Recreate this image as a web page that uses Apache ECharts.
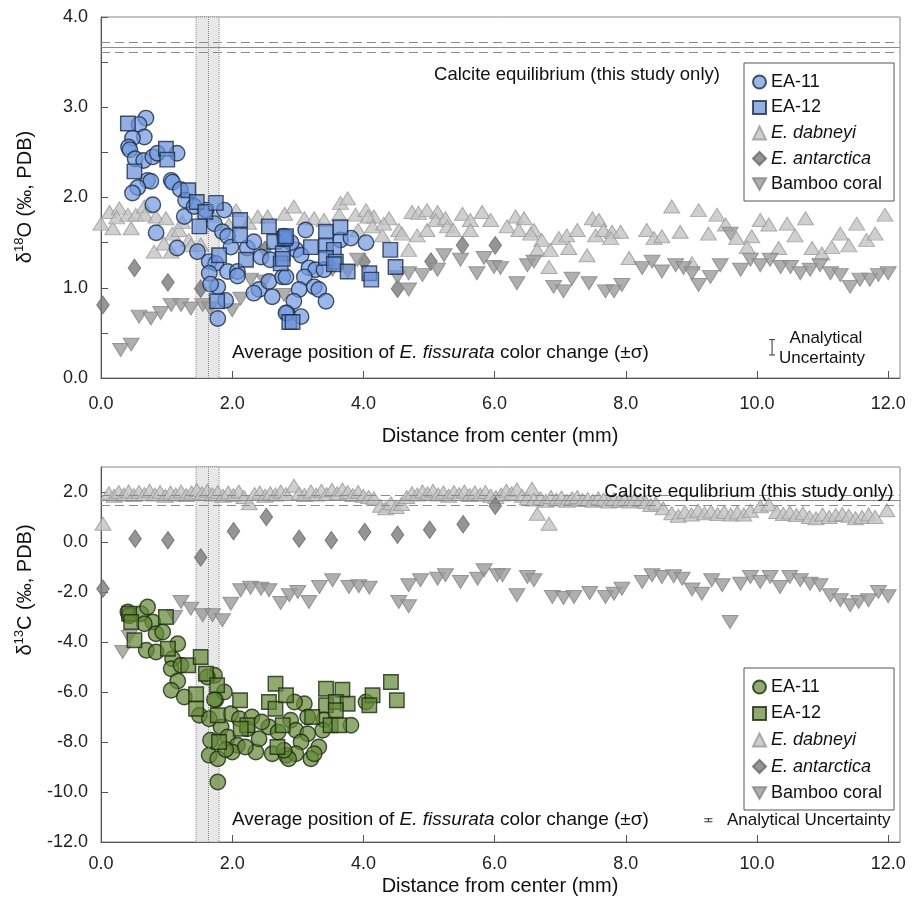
<!DOCTYPE html>
<html><head><meta charset="utf-8">
<script src="https://cdn.jsdelivr.net/npm/echarts@6/dist/echarts.min.js"></script>
<style>html,body{margin:0;padding:0;background:#fff}#c{width:914px;height:912px}</style>
</head><body><div id="c"></div>
<script>
// ---------- DATA ----------
const xTicks = [0, 2, 4, 6, 8, 10, 12];
const bandRange = [1.45, 1.80];
const bandCenter = [1.625];
const eqTop = [3.72, 3.66, 3.61];
const eqBottom = [1.87, 1.67, 1.47];
const errTop = [[10.23, 0.34, 0.085]];
const errBottom = [[9.26, -11.13, 0.06]];

const o18_EA11 = [[0.685,2.88],[0.58,2.81],[0.66,2.67],[0.48,2.66],[0.42,2.56],[0.44,2.53],[0.52,2.43],[0.65,2.41],[0.79,2.45],[0.86,2.49],[1.16,2.49],[0.71,2.19],[0.76,2.18],[0.56,2.11],[0.48,2.05],[1.07,2.19],[1.09,2.17],[1.21,2.09],[0.79,1.92],[1.29,1.97],[1.27,1.79],[0.84,1.61],[1.16,1.44],[1.47,1.40],[1.42,1.90],[1.60,1.86],[1.73,1.71],[1.88,1.86],[1.85,1.62],[1.93,1.57],[1.98,1.45],[1.65,1.29],[1.75,1.27],[1.65,1.16],[1.78,1.01],[1.90,0.86],[1.78,0.66],[1.93,1.18],[2.08,1.18],[2.08,1.13],[2.23,1.44],[2.33,1.51],[2.44,1.34],[2.41,0.98],[2.33,0.94],[2.56,1.07],[2.61,0.90],[2.77,1.12],[2.79,1.57],[2.58,1.31],[2.84,0.72],[1.67,1.04],[3.12,1.64],[3.65,1.53],[3.81,1.55],[4.04,1.50],[2.97,1.42],[3.05,1.36],[2.82,1.53],[2.90,1.50],[3.17,1.22],[3.27,1.20],[3.40,1.20],[2.82,1.12],[3.10,1.12],[3.25,1.01],[3.32,0.98],[3.02,0.98],[2.94,0.85],[3.43,0.85],[2.82,0.72],[3.05,0.68]];
const o18_EA12 = [[0.41,2.82],[0.99,2.54],[1.01,2.42],[0.51,2.29],[1.33,2.08],[1.46,1.95],[1.59,1.84],[1.75,1.94],[1.50,1.68],[2.12,1.75],[2.12,1.58],[1.80,1.36],[2.21,1.31],[2.56,1.68],[2.64,1.51],[2.77,1.38],[2.74,1.27],[2.80,1.55],[1.77,0.85],[2.87,0.62],[2.82,1.57],[3.43,1.62],[3.65,1.67],[3.20,1.45],[3.43,1.47],[3.55,1.42],[3.43,1.33],[3.58,1.29],[3.55,1.26],[3.76,1.18],[4.09,1.16],[4.12,1.09],[4.41,1.42],[4.49,1.23],[2.92,0.62],[2.77,1.32]];
const o18_dabneyi = [[0.13,1.84],[0.28,1.88],[0.0,1.71],[0.18,1.66],[0.24,1.78],[0.46,1.66],[0.41,1.81],[0.53,1.81],[0.66,1.90],[0.67,1.81],[0.84,1.79],[0.99,1.77],[1.09,1.60],[0.96,1.49],[0.81,1.40],[1.07,1.40],[1.19,1.64],[1.24,1.73],[1.34,1.53],[1.37,1.47],[1.52,1.48],[1.70,1.80],[1.95,1.70],[2.25,1.72],[2.06,1.86],[2.39,1.79],[2.54,1.79],[2.80,1.82],[2.94,1.90],[3.10,1.77],[3.25,1.77],[3.40,1.75],[3.65,1.94],[3.76,1.99],[3.63,1.81],[3.88,1.81],[4.04,1.86],[4.16,1.79],[4.07,1.79],[4.14,1.68],[4.29,1.58],[4.39,1.77],[4.31,1.71],[4.54,1.64],[4.59,1.60],[3.92,1.64],[4.69,1.42],[4.74,1.84],[4.84,1.83],[4.97,1.86],[5.13,1.84],[5.10,1.75],[4.82,1.58],[4.97,1.64],[5.25,1.77],[5.28,1.68],[5.37,1.64],[5.51,1.82],[5.63,1.75],[5.63,1.64],[5.81,1.84],[5.94,1.75],[6.32,1.79],[6.45,1.77],[6.19,1.68],[6.37,1.64],[6.60,1.64],[6.55,1.60],[6.72,1.53],[6.65,1.42],[6.85,1.42],[6.98,1.55],[7.10,1.58],[7.13,1.44],[7.26,1.64],[7.41,1.36],[6.83,1.23],[7.49,1.77],[7.59,1.75],[7.54,1.58],[7.66,1.64],[7.79,1.62],[7.92,1.62],[7.77,1.55],[8.05,1.33],[8.32,1.64],[8.43,1.55],[8.55,1.57],[8.70,1.90],[8.83,1.62],[9.01,1.27],[9.11,1.86],[9.39,1.81],[9.52,1.70],[9.26,1.60],[9.69,1.55],[9.92,1.57],[9.85,1.45],[10.05,1.75],[10.18,1.70],[10.33,1.44],[10.46,1.71],[10.58,1.58],[10.74,1.77],[10.84,1.44],[10.99,1.38],[11.14,1.45],[11.27,1.60],[11.40,1.47],[11.52,1.71],[11.67,1.53],[11.80,1.60],[11.95,1.81]];
const o18_antarctica = [[0.03,0.81],[0.51,1.22],[1.02,1.06],[1.52,0.99],[2.50,1.42],[4.01,1.29],[4.52,0.99],[5.03,1.29],[5.51,1.47],[6.01,1.47]];
const o18_bamboo = [[0.30,0.31],[0.46,0.37],[0.58,0.68],[0.76,0.66],[0.91,0.72],[1.07,0.81],[1.22,0.81],[1.37,0.77],[1.55,0.81],[1.66,0.77],[2.00,0.75],[2.13,0.88],[2.28,1.09],[2.49,1.07],[2.79,0.92],[3.53,1.20],[3.76,1.18],[3.91,1.31],[4.52,1.12],[4.69,1.16],[4.69,0.98],[4.90,1.14],[5.13,1.20],[5.23,1.36],[5.48,1.31],[5.73,1.16],[5.84,1.33],[5.99,1.23],[6.09,1.22],[6.34,1.05],[6.50,1.25],[6.60,1.29],[6.90,1.01],[7.05,0.96],[7.18,1.10],[7.44,1.05],[7.69,0.96],[7.82,0.96],[7.94,1.03],[8.25,1.22],[8.40,1.29],[8.55,1.18],[8.76,1.25],[8.88,1.22],[9.01,1.16],[9.11,1.03],[9.29,1.12],[9.44,1.25],[9.59,1.60],[9.75,1.20],[9.90,1.31],[10.05,1.25],[10.20,1.31],[10.36,1.23],[10.51,1.23],[10.66,1.16],[10.81,1.20],[10.96,1.25],[11.12,1.16],[11.27,1.14],[11.42,1.01],[11.57,1.09],[11.72,1.09],[11.85,1.14],[12.0,1.16]];

const c13_EA11 = [[0.41,-2.8],[0.43,-2.95],[0.61,-2.87],[0.71,-2.6],[0.79,-3.2],[0.66,-3.27],[0.84,-3.67],[0.94,-3.6],[1.17,-4.07],[0.69,-4.33],[0.84,-4.4],[1.09,-4.67],[1.07,-5.07],[1.22,-4.93],[1.17,-5.56],[1.07,-5.93],[1.27,-6.2],[1.50,-6.93],[1.65,-7.07],[1.73,-5.33],[1.75,-6.31],[1.88,-6.0],[1.98,-6.87],[1.83,-7.4],[1.67,-7.93],[1.65,-8.53],[1.78,-8.67],[1.78,-9.6],[1.93,-7.8],[2.08,-8.13],[2.11,-7.07],[2.0,-8.4],[2.23,-7.47],[2.36,-8.4],[2.41,-7.87],[2.56,-7.4],[2.61,-8.47],[2.82,-8.53],[1.73,-6.3],[1.62,-5.4],[2.3,-7.0],[2.45,-7.2],[2.7,-7.6],[2.2,-8.2],[1.9,-8.3],[3.10,-6.47],[2.95,-6.4],[2.89,-7.13],[3.15,-7.0],[3.40,-7.11],[3.81,-7.33],[4.04,-6.4],[2.97,-7.53],[3.38,-7.53],[3.15,-7.67],[3.05,-8.0],[3.32,-8.2],[2.97,-8.47],[3.20,-8.67],[2.86,-8.67],[3.25,-8.47],[2.79,-8.33]];
const c13_EA12 = [[0.43,-2.87],[0.46,-3.2],[0.99,-3.0],[0.51,-3.93],[1.02,-4.27],[1.33,-4.93],[1.52,-4.6],[1.60,-5.27],[1.77,-5.73],[1.45,-6.09],[1.45,-6.67],[1.78,-6.93],[2.12,-6.33],[2.23,-7.33],[2.13,-7.47],[1.80,-8.0],[2.66,-5.67],[2.56,-6.4],[2.66,-6.67],[2.82,-6.13],[2.77,-7.33],[2.69,-8.2],[3.43,-5.87],[3.68,-5.91],[3.43,-6.53],[3.58,-6.4],[3.76,-6.47],[3.58,-6.73],[3.22,-7.0],[3.50,-7.33],[3.63,-7.33],[4.14,-6.13],[4.09,-6.53],[4.42,-5.6],[4.51,-6.33]];
const c13_dabneyi = [[0.03,0.73],[0.12,1.95],[0.2,1.85],[0.27,2.0],[0.35,1.9],[0.42,2.02],[0.5,1.88],[0.58,2.0],[0.66,1.92],[0.74,2.05],[0.82,1.9],[0.9,2.0],[0.98,1.85],[1.06,1.98],[1.14,1.9],[1.22,2.02],[1.3,1.88],[1.38,1.98],[1.46,2.08],[1.54,1.95],[1.62,2.05],[1.7,1.9],[1.78,2.0],[1.86,1.85],[1.94,1.98],[2.02,1.88],[2.1,2.02],[2.18,1.8],[2.26,1.55],[2.34,1.92],[2.42,1.98],[2.5,1.85],[2.58,1.95],[2.66,1.9],[2.74,2.02],[2.82,1.92],[2.94,2.25],[3.02,1.95],[3.1,1.88],[3.2,2.02],[3.28,1.9],[3.36,2.05],[3.44,1.92],[3.52,2.08],[3.6,1.95],[3.68,2.1],[3.76,2.0],[3.84,1.88],[3.92,2.0],[4.0,1.85],[4.08,1.8],[4.16,1.75],[4.26,1.45],[4.34,1.35],[4.42,1.55],[4.5,1.4],[4.58,1.52],[4.66,1.8],[4.74,1.95],[4.82,1.9],[4.9,2.02],[4.98,1.95],[5.06,2.05],[5.14,1.9],[5.22,1.98],[5.3,1.85],[5.38,2.0],[5.46,1.92],[5.54,2.02],[5.62,1.88],[5.7,1.98],[5.78,1.9],[5.86,2.0],[5.94,1.85],[6.02,1.8],[6.1,1.9],[6.18,2.05],[6.26,1.95],[6.34,2.1],[6.42,1.85],[6.5,1.75],[6.57,2.13],[6.65,1.13],[6.83,0.73],[6.6,1.7],[6.7,1.75],[6.78,1.65],[6.86,1.8],[6.94,1.7],[7.02,1.78],[7.1,1.65],[7.18,1.75],[7.26,1.8],[7.34,1.68],[7.42,1.72],[7.5,1.65],[7.58,1.75],[7.66,1.7],[7.74,1.62],[7.82,1.72],[7.9,1.65],[7.98,1.7],[8.06,1.62],[8.14,1.72],[8.22,1.68],[8.3,1.6],[8.38,1.48],[8.46,1.55],[8.57,1.35],[8.7,1.15],[8.8,1.05],[8.9,1.2],[9.0,1.1],[9.1,1.25],[9.2,1.15],[9.3,1.22],[9.4,1.12],[9.5,1.2],[9.6,1.1],[9.7,1.18],[9.8,1.1],[9.9,1.25],[10.05,1.43],[10.18,1.5],[10.3,1.2],[10.4,1.12],[10.5,1.18],[10.6,1.08],[10.7,1.15],[10.8,1.0],[10.9,0.95],[11.0,1.1],[11.1,1.0],[11.2,1.08],[11.3,1.12],[11.4,1.05],[11.5,0.95],[11.6,1.0],[11.7,1.1],[11.8,1.0],[11.98,1.27]];
const c13_antarctica = [[0.03,-1.87],[0.52,0.13],[1.02,0.07],[1.52,-0.62],[2.02,0.43],[2.52,1.0],[3.02,0.13],[3.51,0.07],[4.02,0.4],[4.52,0.29],[5.01,0.49],[5.52,0.71],[6.01,1.45]];
const c13_bamboo = [[0.33,-4.4],[0.43,-3.8],[1.12,-3.0],[1.22,-2.4],[1.37,-2.67],[1.55,-2.93],[1.70,-2.93],[1.85,-3.13],[1.98,-2.47],[2.13,-1.93],[2.28,-1.83],[2.44,-1.87],[2.56,-1.93],[2.74,-2.44],[2.87,-2.13],[3.0,-2.0],[3.17,-2.4],[3.33,-1.8],[3.53,-1.53],[3.78,-1.8],[3.93,-1.77],[4.09,-1.83],[4.54,-2.4],[4.69,-2.57],[4.69,-1.73],[4.87,-1.53],[5.13,-1.47],[5.25,-1.33],[5.48,-1.6],[5.74,-1.47],[5.84,-1.13],[6.04,-1.33],[6.12,-1.33],[6.34,-2.13],[6.5,-1.4],[6.6,-1.53],[6.88,-2.2],[7.05,-2.24],[7.21,-2.2],[7.45,-2.04],[7.69,-2.2],[7.82,-2.07],[7.94,-1.87],[8.25,-1.6],[8.4,-1.33],[8.55,-1.4],[8.73,-1.37],[8.86,-1.47],[9.01,-1.9],[9.16,-2.07],[9.31,-1.53],[9.47,-1.73],[9.59,-3.2],[9.75,-1.67],[9.9,-1.4],[10.05,-1.6],[10.2,-1.4],[10.35,-1.8],[10.5,-1.4],[10.66,-1.53],[10.81,-1.67],[10.96,-1.73],[11.12,-2.13],[11.27,-2.33],[11.42,-2.53],[11.55,-2.4],[11.7,-2.33],[11.85,-2.0],[12.0,-2.17]];

// ---------- STYLE ----------
const FONT = '"Liberation Sans", Arial, Helvetica, sans-serif';
const XMAX = 12.18;
const DOWN_TRI = 'path://M0,0 L12,0 L6,10.4 Z';
const sty = {
  blueC: {color: 'rgba(112,153,222,0.88)', borderColor: '#1b2a47', borderWidth: 1.4},
  blueS: {color: 'rgba(102,143,214,0.88)', borderColor: '#1b2a47', borderWidth: 1.4},
  greenC: {color: 'rgba(98,134,54,0.88)', borderColor: '#1c2a0e', borderWidth: 1.4},
  greenS: {color: 'rgba(98,134,54,0.88)', borderColor: '#1c2a0e', borderWidth: 1.4},
  dab: {color: '#c3c3c3', borderColor: '#9a9a9a', borderWidth: 1},
  ant: {color: '#7b7b7b', borderColor: '#686868', borderWidth: 1},
  bam: {color: '#9b9b9b', borderColor: '#848484', borderWidth: 1}
};

function xAxis(gi, margin) {
  return {
    gridIndex: gi, type: 'value', min: 0, max: XMAX, interval: 2,
    axisLine: {show: true, onZero: false, lineStyle: {color: '#555', width: 1}},
    axisTick: {show: true, inside: true, length: 7, lineStyle: {color: '#555'}},
    axisLabel: {showMaxLabel: false, margin, color: '#222', fontSize: 18, fontFamily: FONT,
      formatter: v => (v > 12.05 ? '' : v.toFixed(1))},
    splitLine: {show: false}
  };
}

function band(gi, eq) {
  return {
    type: 'line', xAxisIndex: gi, yAxisIndex: gi, data: [], z: 1, silent: true,
    markArea: {silent: true, itemStyle: {color: '#e8e8e8', borderColor: '#8a8a8a', borderWidth: 1, borderType: 'dotted'},
      data: [[{xAxis: bandRange[0]}, {xAxis: bandRange[1]}]]},
    markLine: {silent: true, symbol: 'none', label: {show: false}, animation: false,
      data: [
        {xAxis: bandCenter[0], lineStyle: {color: '#8a8a8a', type: 'dotted', width: 1}},
        {yAxis: eq[0], lineStyle: {color: '#8a8a8a', type: [9, 5], width: 1}},
        {yAxis: eq[1], lineStyle: {color: '#8a8a8a', type: 'solid', width: 1}},
        {yAxis: eq[2], lineStyle: {color: '#8a8a8a', type: [9, 5], width: 1}}
      ]}
  };
}

function sc(name, gi, data, symbol, size, style, z) {
  return {name, type: 'scatter', xAxisIndex: gi, yAxisIndex: gi, data, symbol, symbolSize: size, itemStyle: style, z, animation: false};
}

function errSeries(gi, data, cap) {
  return {
    type: 'custom', xAxisIndex: gi, yAxisIndex: gi, data, z: 5, silent: true,
    renderItem: (params, api) => {
      const x = api.value(0), y = api.value(1), e = api.value(2);
      const t = api.coord([x, y + e]), b = api.coord([x, y - e]);
      const ls = {stroke: '#333', lineWidth: 1};
      return {type: 'group', children: [
        {type: 'line', shape: {x1: t[0], y1: t[1], x2: b[0], y2: b[1]}, style: ls},
        {type: 'line', shape: {x1: t[0] - cap, y1: t[1], x2: t[0] + cap, y2: t[1]}, style: ls},
        {type: 'line', shape: {x1: b[0] - cap, y1: b[1], x2: b[0] + cap, y2: b[1]}, style: ls}
      ]};
    }
  };
}

function legend(top, prefix, gap) {
  const names = ['EA-11', 'EA-12', 'E. dabneyi', 'E. antarctica', 'Bamboo coral'];
  const icons = ['circle', 'rect', 'triangle', 'diamond', DOWN_TRI];
  return {
    orient: 'vertical', left: 744, top, itemWidth: 13, itemHeight: 13, itemGap: gap,
    padding: [10, 12, 8, 8], borderColor: '#555', borderWidth: 1, backgroundColor: '#fff',
    selectedMode: false,
    data: names.map((n, i) => ({name: prefix + n, icon: icons[i]})),
    formatter: n => {
      const s = n.replace(prefix, '');
      return s.startsWith('E. ') ? '{i|' + s + '}' : s;
    },
    textStyle: {fontFamily: FONT, fontSize: 18, color: '#111', rich: {i: {fontFamily: FONT, fontSize: 18, fontStyle: 'italic', color: '#111'}}}
  };
}

const chart = echarts.init(document.getElementById('c'), null, {renderer: 'canvas'});
const txt = (x, y, text, opt = {}) => ({
  type: 'text', x, y, silent: true, z: 100,
  style: Object.assign({text, fill: '#111', font: '18.5px ' + FONT, textAlign: 'center', textVerticalAlign: 'middle'}, opt)
});
const avgText = y => ({type: 'text', x: 232, y, silent: true, z: 100, style: {
  text: '{n|Average position of }{i|E. fissurata}{n| color change (±σ)}', textVerticalAlign: 'middle',
  rich: {n: {fontFamily: FONT, fontSize: 19, fill: '#111'}, i: {fontFamily: FONT, fontSize: 19, fontStyle: 'italic', fill: '#111'}}}});
const yTitle = (y, iso, el) => ({type: 'text', x: 25, y, rotation: Math.PI / 2, silent: true, z: 100, style: {
  text: '{a|δ}{s|' + iso + '}{a|' + el + ' (‰, PDB)}', textAlign: 'center', textVerticalAlign: 'middle',
  rich: {a: {fontFamily: FONT, fontSize: 20, lineHeight: 24, fill: '#111'}, s: {fontFamily: FONT, fontSize: 13, lineHeight: 24, verticalAlign: 'top', fill: '#111'}}}});

const option = {
  backgroundColor: '#fff',
  animation: false,
  grid: [
    {left: 101, top: 17, width: 799, height: 361, show: true, borderColor: '#888', borderWidth: 1, backgroundColor: 'transparent'},
    {left: 101, top: 467, width: 799, height: 375, show: true, borderColor: '#888', borderWidth: 1, backgroundColor: 'transparent'}
  ],
  xAxis: [xAxis(0, 17), xAxis(1, 13)],
  yAxis: [
    {gridIndex: 0, type: 'value', min: 0, max: 4, interval: 0.5,
      axisLine: {show: true, lineStyle: {color: '#555'}},
      axisTick: {show: true, inside: true, length: 7, lineStyle: {color: '#555'}},
      axisLabel: {margin: 13, color: '#222', fontSize: 18, fontFamily: FONT,
        formatter: v => (Math.abs(v - Math.round(v)) < 1e-6 ? v.toFixed(1) : '')},
      splitLine: {show: false}},
    {gridIndex: 1, type: 'value', min: -12, max: 3, interval: 2,
      axisLine: {show: true, lineStyle: {color: '#555'}},
      axisTick: {show: true, inside: true, length: 7, lineStyle: {color: '#555'}},
      axisLabel: {showMaxLabel: false, margin: 13, color: '#222', fontSize: 18, fontFamily: FONT,
        formatter: v => (v > 2.5 ? '' : v.toFixed(1))},
      splitLine: {show: false}}
  ],
  legend: [legend(63, 'a:', 7.5), legend(668, 'b:', 8.5)],
  series: [
    band(0, eqTop), band(1, eqBottom),
    sc('a:E. dabneyi', 0, o18_dabneyi, 'triangle', [16, 13], sty.dab, 2),
    sc('a:E. antarctica', 0, o18_antarctica, 'diamond', [12.5, 17.5], sty.ant, 2),
    sc('a:Bamboo coral', 0, o18_bamboo, DOWN_TRI, [16, 13], sty.bam, 2),
    sc('a:EA-11', 0, o18_EA11, 'circle', 15.5, sty.blueC, 3),
    sc('a:EA-12', 0, o18_EA12, 'rect', 14.5, sty.blueS, 4),
    sc('b:E. dabneyi', 1, c13_dabneyi, 'triangle', [16, 13], sty.dab, 2),
    sc('b:E. antarctica', 1, c13_antarctica, 'diamond', [12.5, 17.5], sty.ant, 2),
    sc('b:Bamboo coral', 1, c13_bamboo, DOWN_TRI, [16, 13], sty.bam, 2),
    sc('b:EA-11', 1, c13_EA11, 'circle', 15.5, sty.greenC, 3),
    sc('b:EA-12', 1, c13_EA12, 'rect', 14.5, sty.greenS, 4),
    errSeries(0, errTop, 3),
    errSeries(1, errBottom, 4)
  ],
  graphic: [
    txt(577, 75, 'Calcite equilibrium (this study only)'),
    txt(749, 492, 'Calcite equlibrium (this study only)', {font: '19px ' + FONT}),
    avgText(353), avgText(820),
    txt(826, 338, 'Analytical', {font: '17px ' + FONT}),
    txt(822, 358, 'Uncertainty', {font: '17px ' + FONT}),
    txt(727, 820, 'Analytical Uncertainty', {font: '17px ' + FONT, textAlign: 'left'}),
    txt(500, 436, 'Distance from center (mm)', {font: '20px ' + FONT}),
    txt(500, 886, 'Distance from center (mm)', {font: '20px ' + FONT}),
    yTitle(197, '18', 'O'),
    yTitle(590, '13', 'C')
  ]
};
chart.setOption(option);
</script>
</body></html>
